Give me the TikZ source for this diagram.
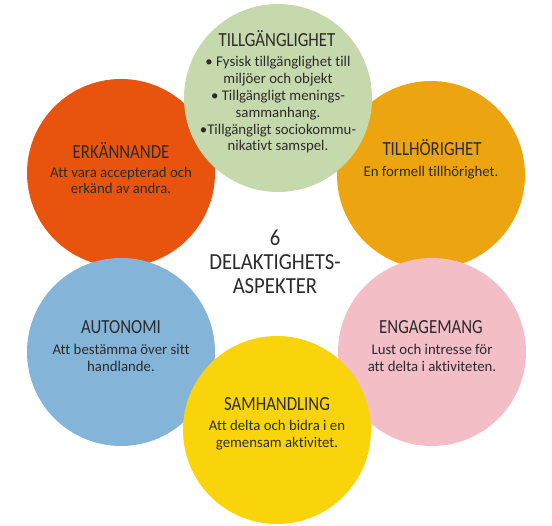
\documentclass[tikz,border=0pt]{standalone}
\usepackage{fontspec}
\setmainfont[Ligatures=NoCommon]{Carlito}
\definecolor{cgreen}{HTML}{C6D9AC}
\definecolor{cred}{HTML}{E8540E}
\definecolor{corange}{HTML}{ECA410}
\definecolor{cblue}{HTML}{84B5D9}
\definecolor{cpink}{HTML}{F3BEC6}
\definecolor{cyellow}{HTML}{FAD40B}
\definecolor{ctext}{HTML}{2B2B2B}
\begin{document}
\begin{tikzpicture}[x=1pt,y=-1pt,
  disc/.style={circle,minimum size=188pt,inner sep=0pt},
  ttl/.style={text=ctext,font=\fontsize{20}{22}\selectfont,xscale=0.84,inner sep=0pt},
  body/.style={text=ctext,font=\fontsize{14.8}{16.8}\selectfont,align=center,inner sep=0pt}]
\useasboundingbox (0,0) rectangle (552,526);
\node[disc,fill=cred] (red) at (121,173) {};
\node[disc,fill=corange] (orange) at (431,175) {};
\node[disc,fill=cgreen] (green) at (278,98) {};
\node[disc,fill=cblue] (blue) at (121,352) {};
\node[disc,fill=cpink] (pink) at (432,352) {};
\node[disc,fill=cyellow] (yellow) at (277,430) {};
% titles
\node[ttl] (t1) at (277,39) {TILLGÄNGLIGHET};
\node[ttl] (t2) at (121,150) {ERKÄNNANDE};
\node[ttl] (t3) at (432,148) {TILLHÖRIGHET};
\node[ttl] (t4) at (121,327) {AUTONOMI};
\node[ttl] (t5) at (431,327) {ENGAGEMANG};
\node[ttl] (t6) at (277,404) {SAMHANDLING};
% bodies
\node[body] (b1) at (278,105) {• Fysisk tillgänglighet till\\miljöer och objekt\\• Tillgängligt menings-\\sammanhang.\\•Tillgängligt sociokommu-\\nikativt samspel.};
\node[body] (b2) at (121,180.5) {Att vara accepterad och\\erkänd av andra.};
\node[body] (b3) at (431,173) {En formell tillhörighet.};
\node[body] (b4) at (121,358) {Att bestämma över sitt\\handlande.};
\node[body] (b5) at (432,358) {Lust och intresse för\\att delta i aktiviteten.};
\node[body] (b6) at (277,435) {Att delta och bidra i en\\gemensam aktivitet.};
% centre
\node[text=ctext,font=\fontsize{23}{24}\selectfont,align=center,xscale=0.9,inner sep=0pt] (c) at (275,262) {6\\DELAKTIGHETS-\\ASPEKTER};
\end{tikzpicture}
\end{document}
